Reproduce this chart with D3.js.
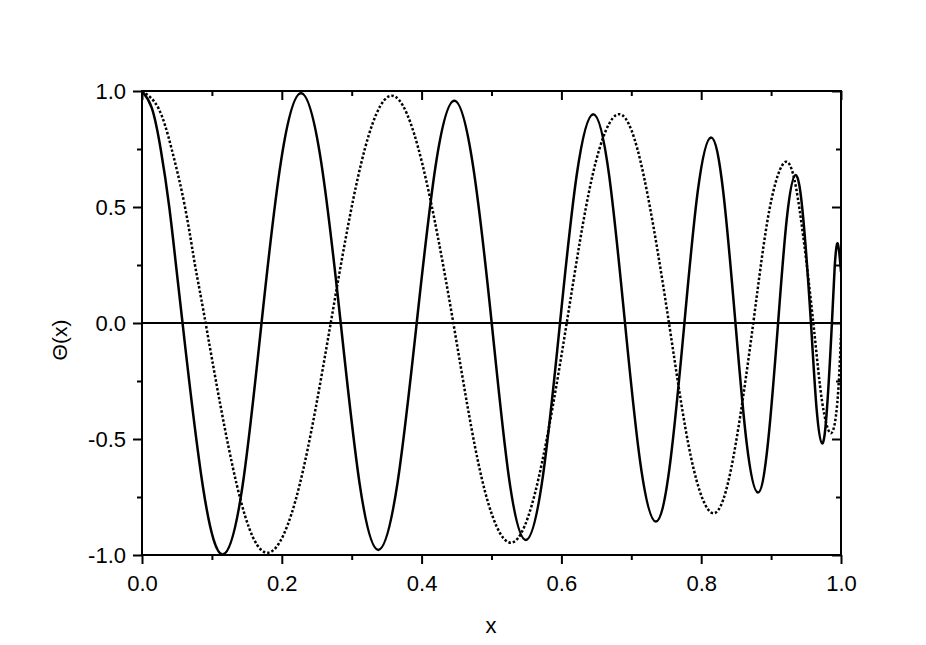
<!DOCTYPE html>
<meta charset="utf-8" />
<html>
<head>
<script src="https://d3js.org/d3.v7.min.js"></script>
<style>
  body { margin: 0; background: #fff; }
  text { font-family: "Liberation Sans", Arial, sans-serif; }
</style>
</head>
<body>
<script type="text/javascript">
// values
var solidX = [0, 0.014, 0.0267, 0.039, 0.0486, 0.058, 0.0872, 0.1163, 0.1437, 0.171, 0.199, 0.2275,
  0.256, 0.2843, 0.3112, 0.338, 0.3655, 0.393, 0.420, 0.4468, 0.4736, 0.5003, 0.5247, 0.549,
  0.5735, 0.598, 0.6218, 0.6456, 0.6683, 0.691, 0.713, 0.735, 0.7555, 0.776, 0.795, 0.814,
  0.8315, 0.849, 0.865, 0.881, 0.8955, 0.910, 0.9225, 0.935, 0.946, 0.957, 0.965, 0.973,
  0.980, 0.987, 0.991, 0.9953, 1.0];
var solidY = [1.0, 0.927, 0.75, 0.5, 0.25, 0, -0.707, -0.997, -0.705, 0, 0.70, 0.99,
  0.70, 0, -0.69, -0.978, -0.69, 0, 0.677, 0.958, 0.677, 0, -0.661, -0.935,
  -0.661, 0, 0.636, 0.90, 0.636, 0, -0.605, -0.856, -0.605, 0, 0.566, 0.80,
  0.566, 0, -0.517, -0.731, -0.517, 0, 0.451, 0.638, 0.451, 0, -0.367, -0.519,
  -0.367, 0, 0.243, 0.343, 0.22];

var dotX = [0, 0.0233, 0.0424, 0.0615, 0.0758, 0.091, 0.1358, 0.1807, 0.2253, 0.270, 0.3137, 0.3572,
  0.4007, 0.4454, 0.4861, 0.5275, 0.5673, 0.6076, 0.6445, 0.6824, 0.7177, 0.7539, 0.7855, 0.8173,
  0.8459, 0.8745, 0.8977, 0.9213, 0.9407, 0.9604, 0.9728, 0.9853, 0.9947, 1.0];
var dotY = [1.0, 0.927, 0.75, 0.5, 0.25, 0, -0.70, -0.99, -0.70, 0, 0.69, 0.98,
  0.69, 0, -0.67, -0.947, -0.67, 0, 0.636, 0.90, 0.636, 0, -0.58, -0.82,
  -0.58, 0, 0.49, 0.695, 0.49, 0, -0.335, -0.475, -0.345, -0.05];

var xMajor = [0, 0.2, 0.4, 0.6, 0.8, 1.0];
var xMinor = [0.1, 0.3, 0.5, 0.7, 0.9];
var yMajor = [-1.0, -0.5, 0.0, 0.5, 1.0];
var yMinor = [-0.75, -0.25, 0.25, 0.75];
var xLabel = 'x';
var yLabel = 'Θ(x)';

var W = 926, H = 645;
var pLeft = 142, pRight = 841, pTop = 91, pBottom = 555;

var svg = d3.select('body').append('svg')
    .attr('width', W)
    .attr('height', H);

var x = d3.scaleLinear().domain([0, 1]).range([pLeft, pRight]);
var y = d3.scaleLinear().domain([-1, 1]).range([pBottom, pTop]);

var fmt = function(d) { return d3.format('.1f')(d).replace('\u2212', '-'); };

svg.append('clipPath').attr('id', 'plot')
  .append('rect')
    .attr('x', pLeft).attr('y', pTop - 2)
    .attr('width', pRight - pLeft).attr('height', pBottom - pTop + 4);

function styleAxis(g) {
  g.select('.domain').remove();
  g.selectAll('line').attr('stroke', '#000').attr('stroke-width', 2);
  g.selectAll('text').attr('font-size', 22).attr('fill', '#000')
    .style('font-family', '"Liberation Sans", Arial, sans-serif');
}

// bottom axis, ticks outward
svg.append('g').attr('transform', 'translate(0,' + pBottom + ')')
  .call(d3.axisBottom(x).tickValues(xMajor).tickFormat(fmt).tickSize(9).tickPadding(11))
  .call(styleAxis);
svg.append('g').attr('transform', 'translate(0,' + pBottom + ')')
  .call(d3.axisBottom(x).tickValues(xMinor).tickFormat('').tickSize(5))
  .call(styleAxis);

// top axis, ticks inward
svg.append('g').attr('transform', 'translate(0,' + pTop + ')')
  .call(d3.axisBottom(x).tickValues(xMajor).tickFormat('').tickSize(9))
  .call(styleAxis);
svg.append('g').attr('transform', 'translate(0,' + pTop + ')')
  .call(d3.axisBottom(x).tickValues(xMinor).tickFormat('').tickSize(5))
  .call(styleAxis);

// left axis, ticks outward
svg.append('g').attr('transform', 'translate(' + pLeft + ',0)')
  .call(d3.axisLeft(y).tickValues(yMajor).tickFormat(fmt).tickSize(9).tickPadding(7))
  .call(styleAxis);
svg.append('g').attr('transform', 'translate(' + pLeft + ',0)')
  .call(d3.axisLeft(y).tickValues(yMinor).tickFormat('').tickSize(5))
  .call(styleAxis);

// right axis, ticks inward
svg.append('g').attr('transform', 'translate(' + pRight + ',0)')
  .call(d3.axisLeft(y).tickValues(yMajor).tickFormat('').tickSize(9))
  .call(styleAxis);
svg.append('g').attr('transform', 'translate(' + pRight + ',0)')
  .call(d3.axisLeft(y).tickValues(yMinor).tickFormat('').tickSize(5))
  .call(styleAxis);

// zero line
svg.append('line')
    .attr('x1', x(0)).attr('x2', x(1))
    .attr('y1', y(0)).attr('y2', y(0))
    .attr('stroke', '#000')
    .attr('stroke-width', 2);

var line = d3.line()
    .x(function(d) { return x(d[0]); })
    .y(function(d) { return y(d[1]); })
    .curve(d3.curveNatural);

var dotted = d3.zip(dotX, dotY);
var solid = d3.zip(solidX, solidY);

svg.append('path')
    .attr('clip-path', 'url(#plot)')
    .attr('d', line(dotted))
    .attr('fill', 'none')
    .attr('stroke', '#000')
    .attr('stroke-width', 2.5)
    .attr('stroke-dasharray', '2.5,2');

svg.append('path')
    .attr('clip-path', 'url(#plot)')
    .attr('d', line(solid))
    .attr('fill', 'none')
    .attr('stroke', '#000')
    .attr('stroke-width', 2.5);

// frame
svg.append('rect')
    .attr('x', pLeft).attr('y', pTop)
    .attr('width', pRight - pLeft).attr('height', pBottom - pTop)
    .attr('fill', 'none')
    .attr('stroke', '#000')
    .attr('stroke-width', 2);

// axis titles
svg.append('text')
    .attr('x', 491).attr('y', 633)
    .attr('text-anchor', 'middle')
    .attr('font-size', 22)
    .text(xLabel);

svg.append('text')
    .attr('transform', 'translate(67,340) rotate(-90)')
    .attr('text-anchor', 'middle')
    .attr('font-size', 21)
    .text(yLabel);
</script>
</body>
</html>
